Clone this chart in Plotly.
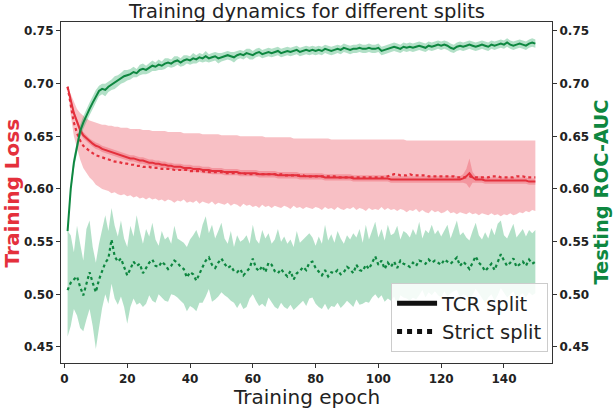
import plotly.graph_objects as go

epochs = list(range(1, 151))

# TCR split testing ROC-AUC (mean) and half-width of its band
auc_tcr = [
0.560,0.600,0.625,0.642,0.655,0.663,0.670,0.676,0.682,0.688,
0.693,0.695,0.694,0.697,0.699,0.701,0.703,0.705,0.707,0.708,
0.709,0.711,0.710,0.713,0.714,0.713,0.715,0.717,0.716,0.718,
0.717,0.719,0.720,0.719,0.721,0.722,0.720,0.722,0.723,0.722,
0.724,0.723,0.725,0.724,0.726,0.724,0.725,0.726,0.724,0.725,
0.726,0.727,0.726,0.725,0.727,0.728,0.727,0.729,0.728,0.727,
0.729,0.730,0.728,0.729,0.730,0.729,0.730,0.731,0.729,0.730,
0.731,0.730,0.731,0.732,0.730,0.731,0.732,0.731,0.732,0.731,
0.732,0.731,0.733,0.732,0.731,0.732,0.733,0.732,0.734,0.733,
0.732,0.733,0.733,0.734,0.733,0.733,0.734,0.733,0.733,0.734,
0.731,0.732,0.733,0.734,0.735,0.734,0.733,0.735,0.734,0.735,
0.734,0.735,0.736,0.735,0.734,0.736,0.735,0.736,0.737,0.736,
0.737,0.736,0.734,0.733,0.735,0.736,0.735,0.736,0.737,0.736,
0.735,0.736,0.737,0.736,0.735,0.737,0.736,0.737,0.738,0.737,
0.739,0.737,0.736,0.737,0.738,0.737,0.736,0.738,0.739,0.738]
auc_tcr_hw = [
0.003,0.005,0.006,0.006,0.006,0.006,0.006,0.006,0.006,0.006,
0.005,0.005,0.006,0.005,0.005,0.006,0.005,0.005,0.006,0.005,
0.005,0.005,0.004,0.005,0.005,0.004,0.005,0.005,0.004,0.005,
0.004,0.005,0.004,0.004,0.005,0.004,0.004,0.005,0.004,0.004,
0.005,0.004,0.004,0.004,0.005,0.004,0.004,0.004,0.005,0.004,
0.004,0.004,0.004,0.005,0.004,0.004,0.004,0.004,0.005,0.004,
0.004,0.004,0.004,0.004,0.004,0.004,0.004,0.004,0.004,0.004,
0.004,0.004,0.004,0.004,0.004,0.004,0.004,0.004,0.004,0.004,
0.004,0.004,0.004,0.004,0.004,0.004,0.004,0.004,0.004,0.004,
0.004,0.004,0.004,0.004,0.004,0.004,0.004,0.004,0.004,0.004,
0.004,0.004,0.004,0.004,0.004,0.004,0.004,0.004,0.004,0.004,
0.004,0.004,0.004,0.004,0.004,0.004,0.004,0.004,0.004,0.004,
0.004,0.004,0.004,0.004,0.004,0.004,0.004,0.004,0.004,0.004,
0.004,0.004,0.004,0.004,0.004,0.004,0.004,0.004,0.004,0.004,
0.004,0.004,0.004,0.004,0.004,0.004,0.004,0.004,0.004,0.004]

# Strict split testing ROC-AUC (mean) with its band bounds
auc_strict = [
0.504,0.511,0.514,0.517,0.507,0.499,0.510,0.521,0.511,0.502,
0.514,0.522,0.530,0.534,0.552,0.536,0.531,0.534,0.526,0.518,
0.524,0.531,0.527,0.529,0.520,0.525,0.530,0.533,0.527,0.526,
0.531,0.528,0.524,0.527,0.532,0.530,0.526,0.524,0.516,0.521,
0.519,0.513,0.520,0.526,0.532,0.535,0.528,0.525,0.530,0.534,
0.529,0.525,0.527,0.522,0.521,0.524,0.518,0.521,0.525,0.534,
0.525,0.522,0.527,0.521,0.530,0.528,0.522,0.520,0.524,0.520,
0.517,0.522,0.514,0.520,0.522,0.526,0.523,0.530,0.531,0.525,
0.521,0.518,0.523,0.517,0.521,0.520,0.523,0.519,0.521,0.526,
0.524,0.520,0.528,0.523,0.522,0.528,0.524,0.530,0.536,0.528,
0.532,0.524,0.530,0.526,0.531,0.525,0.532,0.529,0.528,0.526,
0.530,0.527,0.532,0.531,0.529,0.533,0.530,0.532,0.530,0.528,
0.533,0.531,0.529,0.532,0.535,0.527,0.531,0.528,0.524,0.530,
0.536,0.530,0.527,0.522,0.526,0.529,0.523,0.530,0.538,0.532,
0.527,0.530,0.534,0.526,0.529,0.531,0.527,0.533,0.529,0.531]
auc_strict_hi = [
0.560,0.556,0.540,0.565,0.548,0.532,0.562,0.570,0.545,0.530,
0.548,0.562,0.575,0.560,0.582,0.565,0.555,0.570,0.553,0.545,
0.565,0.555,0.575,0.560,0.548,0.562,0.555,0.568,0.552,0.546,
0.560,0.552,0.555,0.548,0.565,0.553,0.551,0.549,0.545,0.552,
0.556,0.561,0.553,0.566,0.574,0.558,0.566,0.553,0.560,0.568,
0.553,0.548,0.560,0.545,0.556,0.550,0.552,0.556,0.548,0.566,
0.552,0.548,0.561,0.553,0.558,0.548,0.552,0.562,0.550,0.555,
0.548,0.552,0.545,0.560,0.549,0.552,0.556,0.558,0.554,0.546,
0.555,0.548,0.566,0.551,0.557,0.549,0.560,0.553,0.548,0.556,
0.552,0.558,0.554,0.562,0.549,0.566,0.552,0.560,0.569,0.554,
0.562,0.551,0.566,0.556,0.558,0.565,0.552,0.560,0.558,0.554,
0.562,0.556,0.569,0.553,0.561,0.558,0.566,0.557,0.561,0.555,
0.560,0.566,0.553,0.562,0.570,0.556,0.559,0.554,0.551,0.560,
0.568,0.556,0.552,0.559,0.553,0.563,0.556,0.567,0.570,0.556,
0.553,0.560,0.567,0.554,0.558,0.562,0.555,0.561,0.558,0.561]
auc_strict_lo = [
0.460,0.470,0.486,0.480,0.468,0.465,0.476,0.486,0.470,0.448,
0.468,0.487,0.500,0.491,0.510,0.496,0.490,0.498,0.488,0.472,
0.488,0.496,0.490,0.492,0.488,0.491,0.499,0.494,0.492,0.500,
0.497,0.494,0.493,0.500,0.499,0.497,0.494,0.491,0.484,0.489,
0.487,0.484,0.492,0.492,0.498,0.505,0.493,0.495,0.498,0.502,
0.499,0.497,0.494,0.492,0.487,0.492,0.486,0.488,0.496,0.500,
0.494,0.489,0.491,0.488,0.497,0.493,0.488,0.486,0.492,0.488,
0.486,0.490,0.485,0.488,0.491,0.494,0.489,0.496,0.497,0.491,
0.488,0.486,0.491,0.485,0.489,0.488,0.492,0.487,0.490,0.494,
0.491,0.488,0.495,0.490,0.491,0.493,0.492,0.497,0.500,0.496,
0.499,0.493,0.496,0.494,0.498,0.490,0.499,0.497,0.496,0.494,
0.497,0.495,0.499,0.504,0.497,0.502,0.499,0.503,0.499,0.497,
0.503,0.498,0.501,0.503,0.504,0.497,0.500,0.499,0.494,0.500,
0.505,0.501,0.497,0.492,0.497,0.500,0.494,0.499,0.506,0.502,
0.497,0.500,0.503,0.496,0.499,0.501,0.497,0.502,0.499,0.501]

# TCR split training loss (mean) and half-width of its band
loss_tcr = [
0.697,0.685,0.672,0.664,0.656,0.651,0.648,0.645,0.643,0.641,
0.640,0.638,0.637,0.636,0.635,0.634,0.633,0.632,0.631,0.630,
0.629,0.629,0.628,0.627,0.627,0.626,0.625,0.625,0.624,0.624,
0.623,0.623,0.622,0.622,0.621,0.621,0.621,0.620,0.620,0.620,
0.619,0.619,0.619,0.618,0.618,0.618,0.617,0.617,0.617,0.617,
0.616,0.616,0.616,0.616,0.616,0.615,0.615,0.615,0.615,0.615,
0.615,0.614,0.614,0.614,0.614,0.614,0.614,0.613,0.613,0.613,
0.613,0.613,0.613,0.613,0.612,0.612,0.612,0.612,0.612,0.612,
0.612,0.612,0.611,0.611,0.611,0.611,0.611,0.611,0.611,0.611,
0.611,0.610,0.610,0.610,0.610,0.610,0.610,0.610,0.610,0.610,
0.610,0.610,0.610,0.609,0.609,0.609,0.609,0.609,0.609,0.609,
0.609,0.609,0.609,0.609,0.609,0.609,0.609,0.609,0.609,0.609,
0.609,0.609,0.609,0.609,0.609,0.609,0.610,0.612,0.615,0.611,
0.609,0.609,0.609,0.608,0.608,0.608,0.608,0.608,0.608,0.608,
0.608,0.608,0.608,0.608,0.608,0.608,0.608,0.607,0.607,0.607]
loss_tcr_hw = [
0.001,0.002,0.003,0.003,0.003,0.003,0.003,0.003,0.003,0.003,
0.003,0.003,0.003,0.003,0.003,0.003,0.003,0.003,0.003,0.003,
0.003,0.003,0.003,0.003,0.003,0.003,0.003,0.003,0.003,0.003,
0.003,0.003,0.003,0.003,0.003,0.003,0.003,0.003,0.003,0.003,
0.003,0.003,0.003,0.003,0.003,0.003,0.003,0.003,0.003,0.003,
0.003,0.003,0.003,0.003,0.003,0.003,0.003,0.003,0.003,0.003,
0.003,0.003,0.003,0.003,0.003,0.003,0.003,0.003,0.003,0.003,
0.003,0.003,0.003,0.003,0.003,0.003,0.003,0.003,0.003,0.003,
0.003,0.003,0.003,0.003,0.003,0.003,0.003,0.003,0.003,0.003,
0.003,0.003,0.003,0.003,0.003,0.003,0.003,0.003,0.003,0.003,
0.003,0.003,0.003,0.003,0.003,0.003,0.003,0.003,0.003,0.003,
0.003,0.003,0.003,0.003,0.003,0.003,0.003,0.003,0.003,0.003,
0.003,0.003,0.003,0.003,0.003,0.003,0.004,0.007,0.014,0.005,
0.003,0.003,0.003,0.003,0.003,0.003,0.003,0.003,0.003,0.003,
0.003,0.003,0.003,0.003,0.003,0.003,0.003,0.003,0.003,0.003]

# Strict split training loss (mean) with its band bounds
loss_strict = [
0.697,0.678,0.663,0.653,0.646,0.641,0.638,0.636,0.634,0.632,
0.631,0.630,0.629,0.628,0.627,0.626,0.626,0.625,0.624,0.624,
0.623,0.623,0.622,0.622,0.621,0.621,0.621,0.620,0.620,0.620,
0.619,0.619,0.619,0.619,0.618,0.618,0.618,0.618,0.618,0.617,
0.617,0.617,0.617,0.617,0.616,0.616,0.616,0.616,0.616,0.616,
0.615,0.615,0.615,0.615,0.615,0.615,0.615,0.614,0.614,0.614,
0.614,0.614,0.614,0.614,0.614,0.614,0.614,0.613,0.614,0.613,
0.613,0.613,0.613,0.613,0.613,0.613,0.612,0.612,0.612,0.612,
0.612,0.612,0.612,0.612,0.612,0.612,0.611,0.611,0.611,0.611,
0.611,0.611,0.611,0.611,0.611,0.611,0.611,0.611,0.611,0.611,
0.611,0.611,0.612,0.613,0.614,0.614,0.613,0.613,0.613,0.614,
0.613,0.613,0.613,0.613,0.613,0.612,0.612,0.612,0.612,0.612,
0.612,0.612,0.612,0.612,0.611,0.611,0.611,0.611,0.612,0.611,
0.611,0.611,0.611,0.611,0.611,0.612,0.612,0.612,0.611,0.611,
0.611,0.611,0.611,0.612,0.612,0.612,0.611,0.611,0.611,0.611]
loss_strict_hi = [
0.697,0.690,0.682,0.676,0.672,0.669,0.667,0.665,0.664,0.663,
0.662,0.661,0.661,0.660,0.660,0.659,0.659,0.658,0.658,0.658,
0.657,0.657,0.657,0.657,0.656,0.656,0.656,0.655,0.655,0.655,
0.655,0.655,0.654,0.654,0.654,0.654,0.654,0.653,0.653,0.653,
0.653,0.653,0.653,0.652,0.652,0.652,0.652,0.652,0.652,0.651,
0.651,0.651,0.651,0.651,0.651,0.650,0.650,0.650,0.650,0.650,
0.650,0.650,0.650,0.649,0.649,0.649,0.649,0.649,0.649,0.649,
0.649,0.649,0.648,0.648,0.648,0.648,0.648,0.648,0.648,0.648,
0.648,0.648,0.648,0.648,0.647,0.647,0.647,0.647,0.647,0.647,
0.647,0.647,0.647,0.647,0.647,0.647,0.647,0.647,0.647,0.647,
0.647,0.647,0.647,0.647,0.647,0.647,0.647,0.647,0.646,0.646,
0.646,0.646,0.646,0.646,0.646,0.646,0.646,0.646,0.646,0.646,
0.646,0.646,0.646,0.646,0.646,0.646,0.646,0.646,0.646,0.646,
0.646,0.646,0.646,0.646,0.646,0.646,0.646,0.646,0.646,0.646,
0.646,0.646,0.646,0.646,0.646,0.646,0.646,0.646,0.646,0.646]
loss_strict_lo = [
0.697,0.670,0.650,0.638,0.628,0.620,0.615,0.611,0.608,0.604,
0.602,0.600,0.599,0.598,0.596,0.597,0.595,0.594,0.595,0.593,
0.594,0.592,0.593,0.591,0.592,0.590,0.592,0.590,0.591,0.589,
0.590,0.588,0.590,0.589,0.587,0.589,0.588,0.590,0.587,0.588,
0.587,0.589,0.586,0.588,0.587,0.586,0.588,0.585,0.587,0.586,
0.585,0.587,0.584,0.586,0.585,0.583,0.586,0.584,0.585,0.583,
0.584,0.582,0.585,0.583,0.584,0.582,0.584,0.583,0.582,0.584,
0.583,0.581,0.584,0.582,0.583,0.581,0.583,0.582,0.581,0.583,
0.582,0.580,0.583,0.581,0.582,0.580,0.583,0.581,0.580,0.582,
0.581,0.583,0.580,0.582,0.581,0.579,0.582,0.580,0.581,0.580,
0.583,0.580,0.582,0.580,0.581,0.579,0.581,0.580,0.578,0.580,
0.579,0.581,0.578,0.580,0.578,0.577,0.580,0.578,0.579,0.577,
0.578,0.580,0.577,0.578,0.576,0.578,0.577,0.576,0.578,0.576,
0.577,0.575,0.577,0.576,0.575,0.577,0.575,0.576,0.574,0.576,
0.575,0.577,0.575,0.576,0.578,0.577,0.579,0.578,0.580,0.579]

RED = "rgb(228,48,60)"
RED_BAND = "rgba(234,70,85,0.34)"
GREEN = "rgb(14,135,64)"
GREEN_BAND = "rgba(28,165,90,0.34)"

fig = go.Figure()

def band(x, lo, hi, color, yaxis):
    fig.add_trace(go.Scatter(x=x, y=lo, mode="lines", line=dict(width=0, color=color),
                             showlegend=False, hoverinfo="skip", yaxis=yaxis))
    fig.add_trace(go.Scatter(x=x, y=hi, mode="lines", line=dict(width=0, color=color),
                             fill="tonexty", fillcolor=color, showlegend=False,
                             hoverinfo="skip", yaxis=yaxis))

# Loss (left axis)
band(epochs, loss_strict_lo, loss_strict_hi, RED_BAND, "y")
band(epochs, [m - h for m, h in zip(loss_tcr, loss_tcr_hw)],
     [m + h for m, h in zip(loss_tcr, loss_tcr_hw)], RED_BAND, "y")
fig.add_trace(go.Scatter(x=epochs, y=loss_strict, mode="lines",
                         line=dict(color=RED, width=2.2, dash="dot"), showlegend=False, yaxis="y"))
fig.add_trace(go.Scatter(x=epochs, y=loss_tcr, mode="lines",
                         line=dict(color=RED, width=2), showlegend=False, yaxis="y"))

# ROC-AUC (right axis)
band(epochs, auc_strict_lo, auc_strict_hi, GREEN_BAND, "y2")
band(epochs, [m - h for m, h in zip(auc_tcr, auc_tcr_hw)],
     [m + h for m, h in zip(auc_tcr, auc_tcr_hw)], GREEN_BAND, "y2")
fig.add_trace(go.Scatter(x=epochs, y=auc_strict, mode="lines",
                         line=dict(color=GREEN, width=2.2, dash="dot"), showlegend=False, yaxis="y2"))
fig.add_trace(go.Scatter(x=epochs, y=auc_tcr, mode="lines",
                         line=dict(color=GREEN, width=2), showlegend=False, yaxis="y2"))

# Legend entries
fig.add_trace(go.Scatter(x=[None], y=[None], mode="lines", name="TCR split",
                         line=dict(color="#111111", width=5), yaxis="y2"))
fig.add_trace(go.Scatter(x=[None], y=[None], mode="lines", name="Strict split",
                         line=dict(color="#111111", width=5, dash="dot"), yaxis="y2"))

yrange = [0.4348, 0.7585]
yticks = [0.45, 0.50, 0.55, 0.60, 0.65, 0.70, 0.75]
ytext = ["0.45", "0.50", "0.55", "0.60", "0.65", "0.70", "0.75"]
xticks = [0, 20, 40, 60, 80, 100, 120, 140]

tickfont = dict(family="DejaVu Sans", size=12, color="#222", weight="bold")

axis_common = dict(ticks="outside", ticklen=4, tickcolor="#333", tickfont=tickfont,
                   showgrid=False, zeroline=False, showline=True, linecolor="#333",
                   linewidth=1.2, automargin=False)

fig.update_layout(
    width=614, height=410,
    margin=dict(l=61, r=62, t=22, b=47),
    plot_bgcolor="white", paper_bgcolor="white",
    font=dict(family="DejaVu Sans", color="#222"),
    title=dict(text="Training dynamics for different splits", x=0.5, xanchor="center",
               y=0.972, yanchor="middle", yref="container",
               font=dict(family="DejaVu Sans", size=19.5, color="#222")),
    xaxis=dict(range=[-1.1, 155.3], tickvals=xticks, mirror=True, **axis_common),
    yaxis=dict(range=yrange, tickvals=yticks, ticktext=ytext, **axis_common),
    yaxis2=dict(range=yrange, tickvals=yticks, ticktext=ytext, overlaying="y", side="right",
                **axis_common),
    legend=dict(x=0.992, y=0.032, xanchor="right", yanchor="bottom", traceorder="normal",
                bgcolor="rgba(255,255,255,0.85)", bordercolor="#cccccc", borderwidth=1,
                font=dict(family="DejaVu Sans", size=19.5, color="#222"),
                itemwidth=40),
    annotations=[
        dict(text="Training epoch", x=0.5, y=-0.1, xref="paper", yref="paper",
             xanchor="center", yanchor="middle", showarrow=False,
             font=dict(family="DejaVu Sans", size=20, color="#222")),
        dict(text="<b>Training Loss</b>", x=-0.1, y=0.5, xref="paper", yref="paper",
             xanchor="center", yanchor="middle", showarrow=False, textangle=-90,
             font=dict(family="DejaVu Sans", size=20, color=RED)),
        dict(text="<b>Testing ROC-AUC</b>", x=1.1, y=0.5, xref="paper", yref="paper",
             xanchor="center", yanchor="middle", showarrow=False, textangle=-90,
             font=dict(family="DejaVu Sans", size=19.5, color=GREEN)),
    ],
)

fig.write_html("out.html", config={"displayModeBar": False},
               post_script="document.body.style.margin='0';document.body.style.overflow='hidden';")
